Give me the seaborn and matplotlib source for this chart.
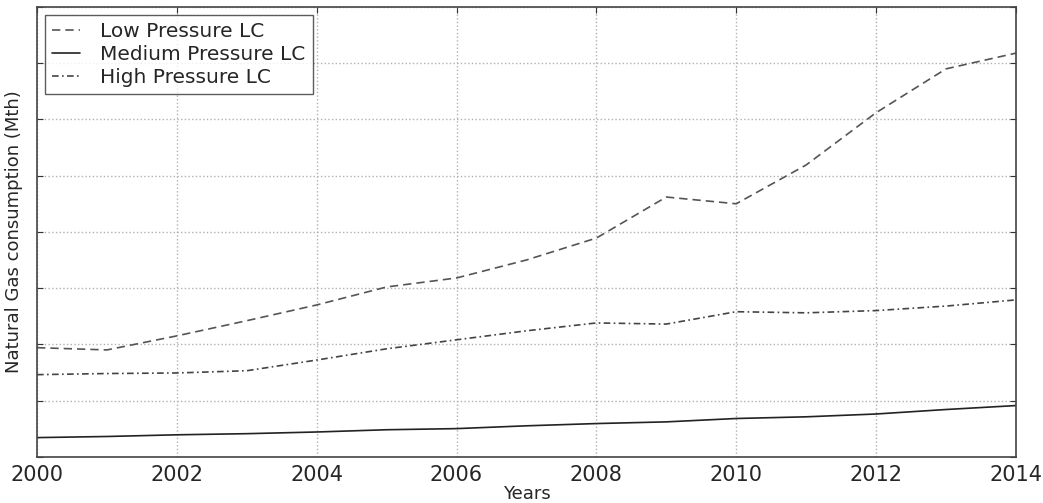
import numpy as np
import pandas as pd
import matplotlib
matplotlib.use("Agg")
import matplotlib.pyplot as plt
import seaborn as sns

years = list(range(2000, 2015))
low_pressure = [1.94, 1.90, 2.15, 2.42, 2.70, 3.02, 3.18, 3.50, 3.89, 4.62, 4.50, 5.19, 6.12, 6.90, 7.18]
medium_pressure = [0.34, 0.36, 0.39, 0.41, 0.44, 0.48, 0.50, 0.55, 0.59, 0.62, 0.68, 0.71, 0.76, 0.84, 0.91]
high_pressure = [1.46, 1.48, 1.49, 1.53, 1.72, 1.92, 2.08, 2.24, 2.38, 2.36, 2.58, 2.56, 2.60, 2.68, 2.79]
series_names = ["Low Pressure LC", "Medium Pressure LC", "High Pressure LC"]
x_ticks = [2000, 2002, 2004, 2006, 2008, 2010, 2012, 2014]

df = pd.DataFrame({
    "Years": years * 3,
    "value": low_pressure + medium_pressure + high_pressure,
    "series": sum([[n] * len(years) for n in series_names], []),
})

sns.set_style("white")
plt.rcParams["font.family"] = ["DejaVu Sans"]

fig, ax = plt.subplots(figsize=(10.43, 5.03), dpi=100)
fig.subplots_adjust(left=0.0355, right=0.974, top=0.986, bottom=0.092)

dashes = {
    "Low Pressure LC": (5, 3),
    "Medium Pressure LC": "",
    "High Pressure LC": (4, 2, 1, 2),
}
palette = {"Low Pressure LC": "#555555", "Medium Pressure LC": "#222222", "High Pressure LC": "#444444"}
sns.lineplot(data=df, x="Years", y="value", hue="series", style="series",
             dashes=dashes, palette=palette, hue_order=series_names,
             style_order=series_names, linewidth=1.2, ax=ax)

ax.set_xlim(2000, 2014)
ax.set_ylim(0, 8)
ax.set_xticks(x_ticks)
ax.set_xticklabels([str(t) for t in x_ticks])
ax.set_yticks(np.arange(0, 9, 1))
ax.set_yticklabels([])
ax.tick_params(axis="both", direction="in", length=4, width=0.8, color="#333333",
               top=True, right=True, labelsize=15, pad=6)
ax.tick_params(axis="y", left=True)
ax.grid(True, linestyle=":", color="#b0b0b0", linewidth=1.0)
for s in ax.spines.values():
    s.set_color("#444444")
    s.set_linewidth(1.2)

ax.set_xlabel("Years", fontsize=13, labelpad=0)
ax.set_ylabel("Natural Gas consumption (Mth)", fontsize=13, labelpad=4)

leg = ax.legend(loc="upper left", fontsize=14.5, frameon=True, fancybox=False,
                handlelength=1.4, borderpad=0.35, labelspacing=0.2,
                handletextpad=1.0, borderaxespad=0.4)
leg.get_frame().set_edgecolor("#333333")
leg.get_frame().set_linewidth(1.0)

fig.savefig("out.png", dpi=100)
